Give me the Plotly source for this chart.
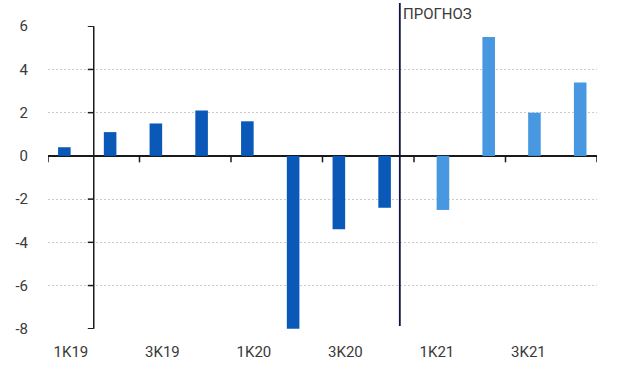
import plotly.graph_objects as go

categories = ["1K19", "2K19", "3K19", "4K19", "1K20", "2K20", "3K20", "4K20",
              "1K21", "2K21", "3K21", "4K21"]
actual_values = [0.4, 1.1, 1.5, 2.1, 1.6, -8.0, -3.4, -2.4]
forecast_values = [-2.5, 5.5, 2.0, 3.4]
y_ticks = [-8, -6, -4, -2, 0, 2, 4, 6]
forecast_label = "ПРОГНОЗ"

DARK = "#0A58B8"
LIGHT = "#4798E0"
AXIS = "#1a1a1a"
TEXT = "#3a3a3a"
FONT = "Roboto"
BAR_W = 0.275

fig = go.Figure()
fig.add_trace(go.Bar(x=categories[:8], y=actual_values, marker_color=DARK,
                     marker_line_width=0, name="Факт",
                     width=BAR_W, offset=-BAR_W - 0.005))
fig.add_trace(go.Bar(x=categories[8:], y=forecast_values, marker_color=LIGHT,
                     marker_line_width=0, name="Прогноз",
                     width=BAR_W, offset=-0.005))

shapes = []
# y-axis line drawn between the first and second category
shapes.append(dict(type="line", xref="x", yref="y", x0=0.5, x1=0.5,
                   y0=y_ticks[0], y1=y_ticks[-1], line=dict(color=AXIS, width=1.5)))
for t in y_ticks:
    shapes.append(dict(type="line", xref="x", yref="y", x0=0.5 - 0.13, x1=0.5,
                       y0=t, y1=t, line=dict(color=AXIS, width=1.5)))
# x tick marks on the zero line every two categories
for i in range(0, len(categories) + 1, 2):
    shapes.append(dict(type="line", xref="x", yref="y", x0=i - 0.5, x1=i - 0.5,
                       y0=0, y1=-0.3, line=dict(color=AXIS, width=1.5)))
# forecast separator
shapes.append(dict(type="line", xref="x", yref="paper", x0=7.19, x1=7.19,
                   y0=0.01, y1=1.076, line=dict(color="#0d1440", width=1.8)))

fig.update_layout(
    width=620, height=372,
    margin=dict(l=48, r=23, t=26, b=43),
    paper_bgcolor="white", plot_bgcolor="white",
    showlegend=False,
    font=dict(family=FONT, size=15, color=TEXT),
    shapes=shapes,
    annotations=[dict(text=forecast_label, xref="x", yref="paper", x=7.19, y=1.04,
                      xanchor="left", yanchor="middle", showarrow=False,
                      xshift=1, font=dict(family=FONT, size=15, color=TEXT))],
    xaxis=dict(type="category", categoryorder="array", categoryarray=categories,
               tickvals=categories[::2], ticktext=categories[::2],
               range=[-0.5, len(categories) - 0.5], automargin=False,
               showgrid=False, showline=False, zeroline=False,
               ticks="outside", ticklen=9, tickcolor="rgba(0,0,0,0)",
               tickfont=dict(size=15, color=TEXT)),
    yaxis=dict(range=[-8.01, 6.01], tickvals=y_ticks, ticktext=[str(t) for t in y_ticks],
               automargin=False,
               showgrid=True, gridcolor="#cccccc", gridwidth=1, griddash="2px,2px",
               zeroline=True, zerolinecolor=AXIS, zerolinewidth=1.5,
               showline=False, ticks="outside", ticklen=16, tickcolor="rgba(0,0,0,0)",
               tickfont=dict(size=15, color=TEXT)),
)

fig.write_html("out.html", config={"displayModeBar": False},
               post_script="document.body.style.margin='0';")
